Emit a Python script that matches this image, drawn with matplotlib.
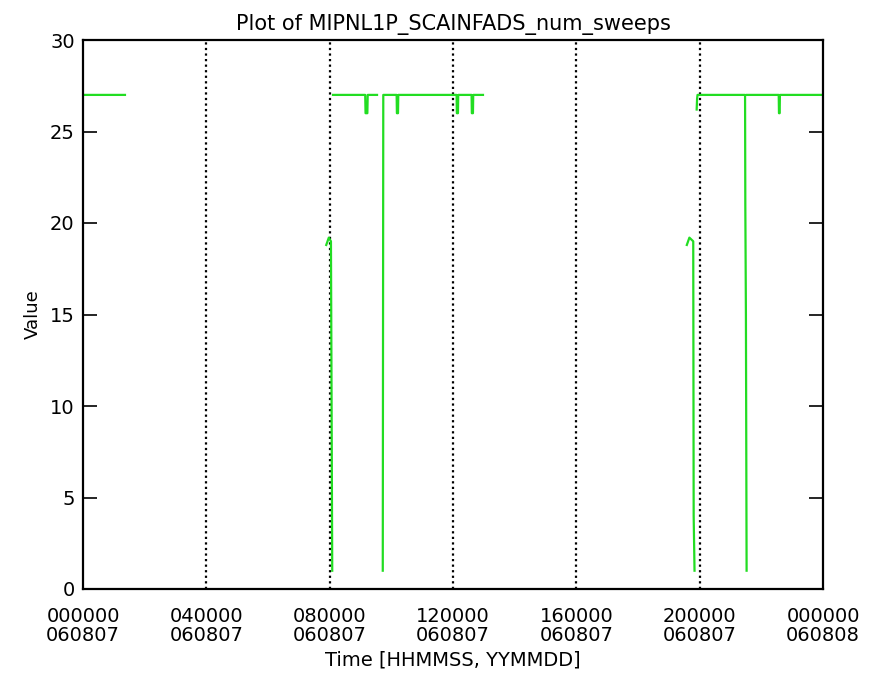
import matplotlib.pyplot as plt
import numpy as np

# time in seconds since 000000 060807, value = number of sweeps
seg1_t = [0, 4900]
seg1_v = [27, 27]

seg2_t = [28400, 28700, 28950, 29100]
seg2_v = [18.8, 19.2, 19, 1]

seg3_t = [29190, 32950, 32990, 33200, 33240, 34330]
seg3_v = [27, 27, 26, 26, 27, 27]

seg4_t = [35000, 35030, 35060, 36620, 36650, 36780, 36810, 43620, 43650, 43780, 43810,
          45370, 45400, 45530, 45560, 46700]
seg4_v = [1, 14, 27, 27, 26, 26, 27, 27, 26, 26, 27, 27, 26, 26, 27, 27]

seg5_t = [70500, 70800, 71250, 71300, 71400]
seg5_v = [18.8, 19.2, 19, 4, 1]

seg6_t = [71650, 71700, 71750, 77300, 77330, 77400, 77480]
seg6_v = [26.2, 26.8, 27, 27, 21, 15, 1]

seg7_t = [77520, 81230, 81260, 81340, 81370, 86400]
seg7_v = [27, 27, 26, 26, 27, 27]

tick_pos = [0, 14400, 28800, 43200, 57600, 72000, 86400]
tick_labels = ['000000\n060807', '040000\n060807', '080000\n060807', '120000\n060807',
               '160000\n060807', '200000\n060807', '000000\n060808']

segments = [(seg1_t, seg1_v), (seg2_t, seg2_v), (seg3_t, seg3_v), (seg4_t, seg4_v),
            (seg5_t, seg5_v), (seg6_t, seg6_v), (seg7_t, seg7_v)]
t_all = []
v_all = []
for t, v in segments:
    t_all += list(t) + [np.nan]
    v_all += list(v) + [np.nan]

fig = plt.figure(figsize=(8.73, 6.75), dpi=100)
ax = fig.add_axes([83 / 873, 1 - 589 / 675, 740 / 873, 549 / 675])

for x in tick_pos[1:-1]:
    ax.axvline(x, color='black', linestyle=(0, (1, 1.5)), linewidth=1.6, zorder=1)

ax.plot(t_all, v_all, color='#22dd22', linewidth=1.6, zorder=2)

ax.set_xlim(0, 86400)
ax.set_ylim(0, 30)
ax.set_xticks(tick_pos)
ax.set_xticklabels(tick_labels, linespacing=1.0)
ax.set_yticks(range(0, 31, 5))
ax.tick_params(axis='y', direction='in', length=10, width=1.2, right=True, labelsize=14, pad=6)
ax.tick_params(axis='x', direction='in', length=0, labelsize=14, pad=13)
for s in ax.spines.values():
    s.set_linewidth(1.6)

ax.set_title('Plot of MIPNL1P_SCAINFADS_num_sweeps', fontsize=15, pad=7)
ax.set_xlabel('Time [HHMMSS, YYMMDD]', fontsize=14, labelpad=4)
ax.set_ylabel('Value', fontsize=13, labelpad=6)

plt.savefig('out.png', dpi=100)
